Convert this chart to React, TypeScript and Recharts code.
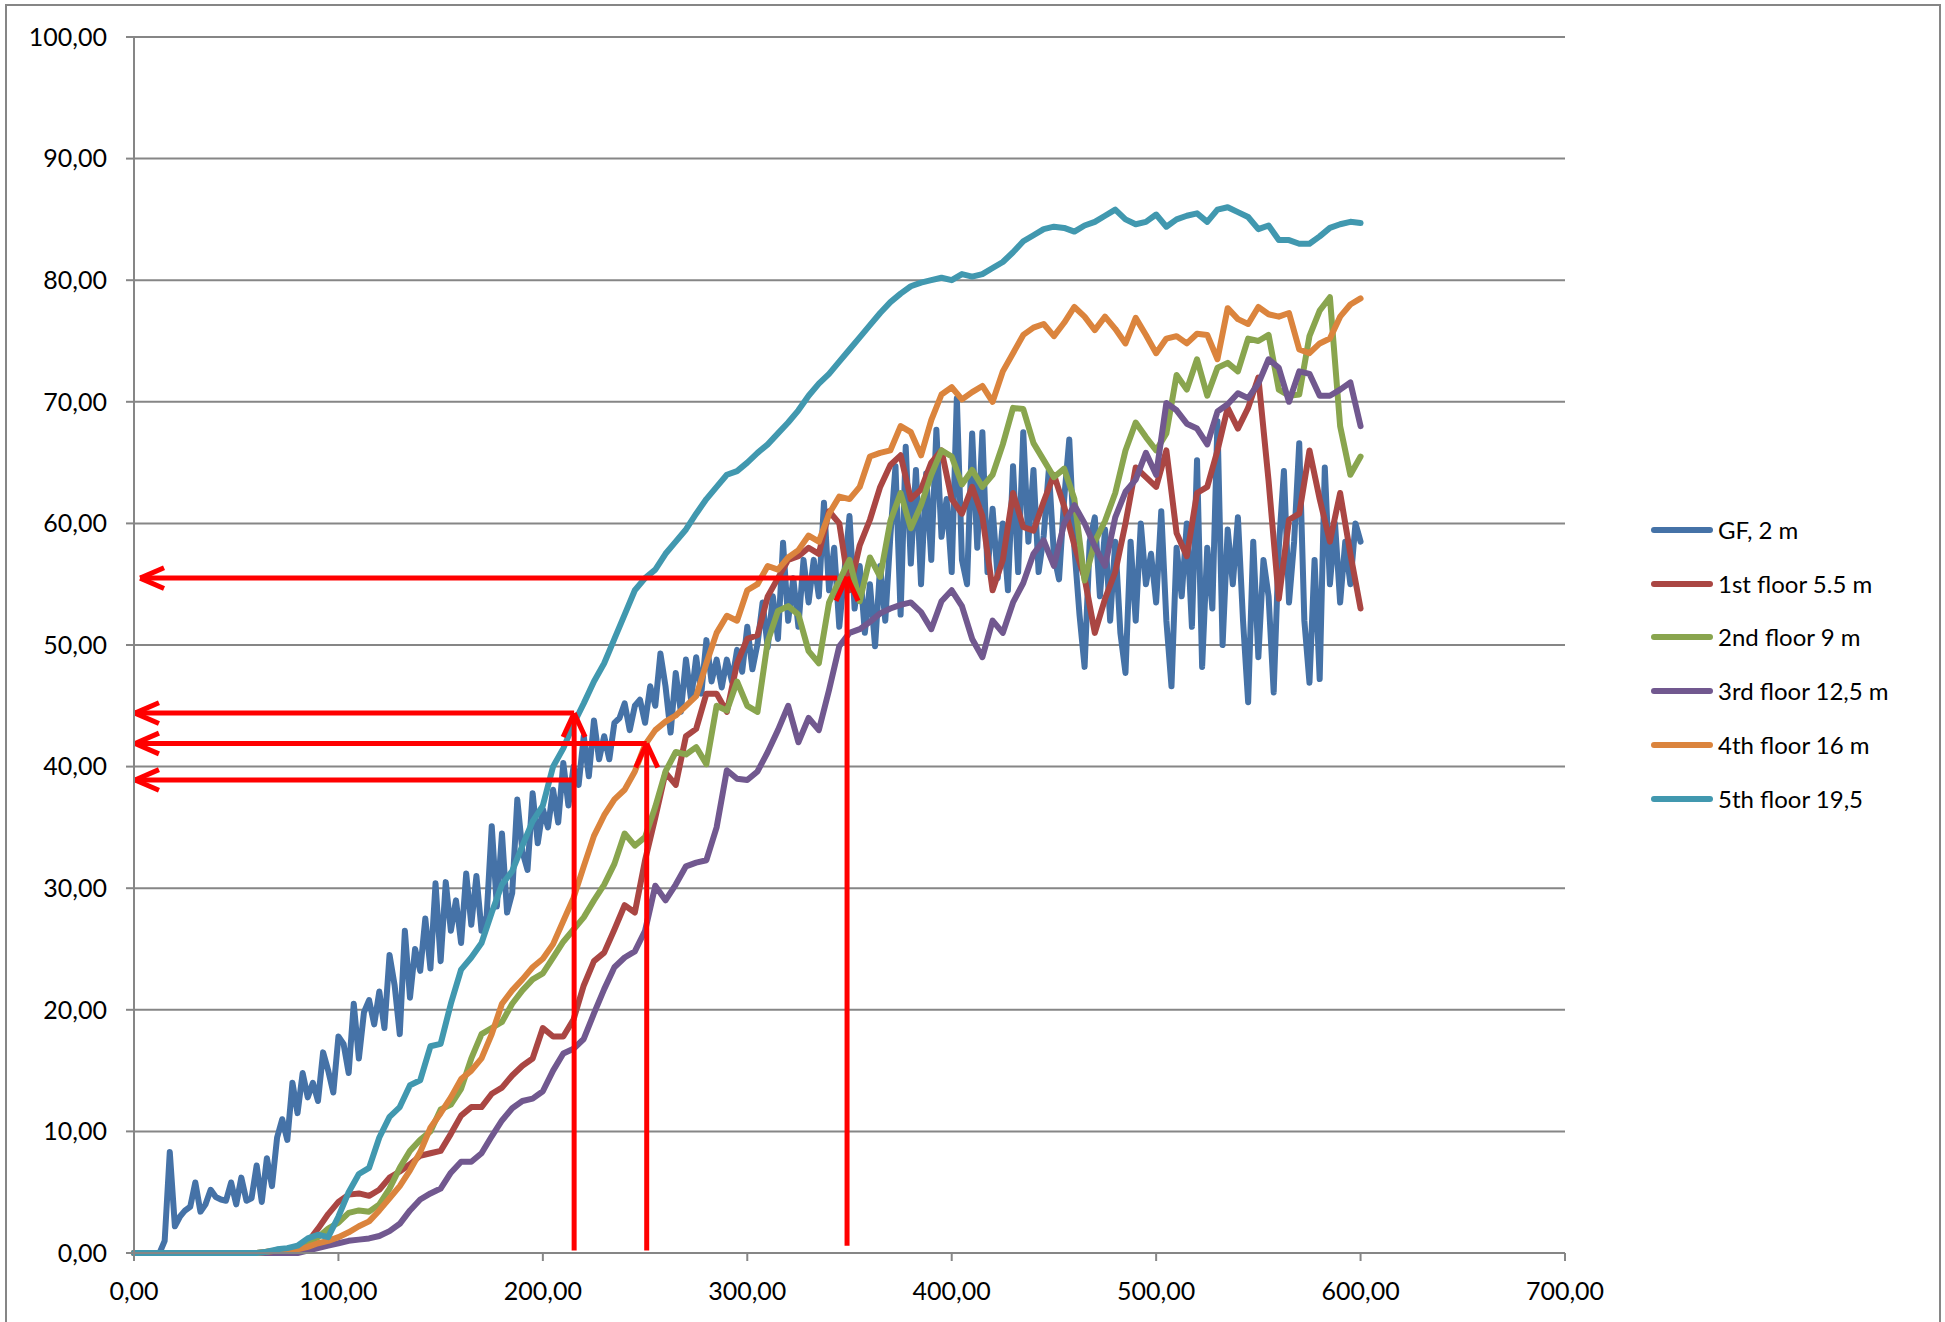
import React from 'react';
import { LineChart, Line, XAxis, YAxis, CartesianGrid, ReferenceLine, Legend } from 'recharts';

// ---- sampling (seconds between readings) ----
const GF_STEP = 2.5;
const FLOOR_STEP = 5;

// ---- series values ----
const gfValues = [
  0, 0, 0, 0, 0, 0, 1.0, 8.3,
  2.2, 3.0, 3.5, 3.8, 5.8, 3.4, 4.0, 5.2,
  4.6, 4.4, 4.3, 5.8, 4.0, 6.2, 4.3, 4.5,
  7.2, 4.2, 7.8, 5.5, 9.5, 11.0, 9.3, 14.0,
  11.5, 14.8, 12.8, 14.0, 12.5, 16.5, 15.0, 13.2,
  17.8, 17.2, 14.8, 20.5, 16.0, 19.8, 20.8, 18.8,
  21.5, 18.5, 24.5, 22.0, 18.0, 26.5, 21.0, 25.0,
  23.2, 27.5, 23.4, 30.4, 24.0, 30.5, 26.5, 29.0,
  25.5, 31.2, 27.0, 31.0, 26.5, 27.7, 35.1, 28.5,
  34.5, 28.0, 29.6, 37.3, 33.0, 31.5, 37.8, 33.7,
  36.5, 35.0, 38.1, 35.4, 40.3, 36.8, 40.0, 38.5,
  42.5, 39.2, 43.8, 40.6, 42.5, 40.6, 43.6, 44.0,
  45.2, 43.0, 45.0, 45.5, 43.6, 46.6, 45.0, 49.3,
  46.6, 42.8, 47.7, 44.5, 48.8, 45.5, 49.0, 46.0,
  50.4, 47.0, 48.8, 46.5, 48.8, 47.0, 49.6, 47.8,
  51.5, 48.0, 50.1, 53.5, 49.8, 54.0, 50.5, 58.4,
  52.0, 55.5, 51.5, 57.0, 53.5, 57.0, 54.0, 61.7,
  54.5, 58.0, 51.5, 56.0, 60.6, 53.0, 56.5, 51.0,
  55.0, 49.9, 56.5, 52.0, 59.0, 64.7, 52.5, 66.3,
  56.7, 64.4, 55.0, 64.1, 57.0, 67.7, 58.9, 62.0,
  56.0, 70.3, 57.0, 55.0, 67.4, 58.0, 67.5, 56.0,
  61.2, 55.5, 60.0, 54.5, 64.7, 56.0, 67.5, 58.5,
  64.4, 56.0, 59.0, 64.4, 57.4, 55.4, 62.0, 66.9,
  58.0, 52.5, 48.2, 58.5, 60.5, 54.0, 59.5, 52.0,
  58.5, 51.0, 47.7, 58.5, 52.0, 60.0, 55.0, 57.5,
  53.5, 61.0, 52.0, 46.6, 58.0, 54.0, 60.0, 51.5,
  65.2, 48.2, 58.0, 53.0, 68.4, 50.0, 59.5, 55.0,
  60.5, 52.0, 45.3, 58.5, 49.0, 57.0, 54.0, 46.1,
  58.0, 64.3, 53.5, 58.5, 66.6, 52.0, 46.9, 57.0,
  47.2, 64.6, 55.0, 60.0, 53.5, 58.5, 55.0, 60.0,
  58.5,
];

const floor1Values = [
  0, 0, 0, 0, 0, 0, 0, 0, 0, 0,
  0, 0, 0, 0, 0, 0, 0.2, 0.9, 2.0, 3.2,
  4.2, 4.8, 4.9, 4.7, 5.2, 6.2, 6.7, 7.3, 8.0, 8.2,
  8.4, 9.8, 11.3, 12.0, 12.0, 13.1, 13.6, 14.6, 15.4, 16.0,
  18.5, 17.8, 17.8, 19.2, 22.0, 24.0, 24.7, 26.6, 28.6, 28.0,
  32.3, 35.8, 39.5, 38.5, 42.5, 43.1, 46.0, 46.0, 44.5, 48.5,
  50.5, 50.8, 54.0, 55.5, 57.0, 57.3, 58.0, 57.5, 61.0, 60.0,
  54.5, 58.2, 60.3, 63.0, 64.8, 65.6, 62.0, 62.8, 65.0, 66.0,
  62.0, 60.8, 63.0, 60.6, 54.5, 57.0, 62.5, 59.7, 59.4, 61.8,
  64.0, 61.4, 58.2, 55.5, 51.0, 53.8, 56.0, 60.0, 64.6, 63.8,
  63.0, 66.0, 59.2, 57.3, 62.5, 63.0, 66.0, 69.5, 67.8, 69.5,
  72.0, 63.5, 53.8, 60.3, 60.8, 66.0, 62.0, 58.5, 62.5, 57.5,
  53.0,
];

const floor2Values = [
  0, 0, 0, 0, 0, 0, 0, 0, 0, 0,
  0, 0, 0, 0.1, 0.2, 0.3, 0.5, 0.8, 1.3, 2.0,
  2.5, 3.3, 3.5, 3.4, 4.0, 5.3, 7.0, 8.4, 9.3, 10.0,
  11.8, 12.2, 13.5, 16.0, 18.0, 18.5, 19.0, 20.5, 21.6, 22.5,
  23.0, 24.3, 25.6, 26.6, 27.6, 29.0, 30.3, 32.0, 34.5, 33.5,
  34.2, 36.7, 39.6, 41.2, 41.0, 41.6, 40.2, 45.0, 44.6, 47.0,
  45.0, 44.5, 50.3, 52.8, 53.2, 52.5, 49.5, 48.5, 53.5, 55.3,
  57.0, 53.6, 57.2, 55.6, 60.2, 62.5, 59.6, 61.5, 64.0, 66.0,
  65.5, 63.2, 64.4, 63.0, 64.0, 66.5, 69.5, 69.4, 66.6, 65.2,
  63.8, 64.5, 62.0, 55.3, 58.5, 60.2, 62.5, 66.0, 68.3, 67.1,
  66.0, 67.4, 72.2, 71.0, 73.5, 70.5, 72.8, 73.2, 72.5, 75.2,
  75.0, 75.5, 71.0, 70.5, 70.6, 75.4, 77.5, 78.6, 68.0, 64.0,
  65.5,
];

const floor3Values = [
  0, 0, 0, 0, 0, 0, 0, 0, 0, 0,
  0, 0, 0, 0, 0, 0, 0, 0.2, 0.4, 0.6,
  0.8, 1.0, 1.1, 1.2, 1.4, 1.8, 2.4, 3.5, 4.4, 4.9,
  5.3, 6.6, 7.5, 7.5, 8.2, 9.6, 10.9, 11.9, 12.5, 12.7,
  13.3, 15.0, 16.4, 16.8, 17.6, 19.7, 21.7, 23.5, 24.3, 24.8,
  26.5, 30.2, 29.0, 30.3, 31.8, 32.1, 32.3, 35.0, 39.7, 39.0,
  38.9, 39.6, 41.2, 43.0, 45.0, 42.0, 44.0, 43.0, 46.3, 49.9,
  51.0, 51.3, 51.9, 52.6, 53.0, 53.3, 53.5, 52.7, 51.3, 53.6,
  54.5, 53.2, 50.5, 49.0, 52.0, 51.0, 53.5, 55.1, 57.5, 58.6,
  56.5, 60.0, 61.5, 60.0, 58.1, 56.5, 60.5, 62.6, 63.6, 65.8,
  64.0, 69.9, 69.3, 68.2, 67.8, 66.5, 69.2, 69.8, 70.7, 70.3,
  71.5, 73.5, 72.8, 70.0, 72.5, 72.3, 70.5, 70.5, 71.0, 71.6,
  68.0,
];

const floor4Values = [
  0, 0, 0, 0, 0, 0, 0, 0, 0, 0,
  0, 0, 0, 0.1, 0.2, 0.3, 0.3, 0.5, 0.8, 1.0,
  1.3, 1.7, 2.2, 2.6, 3.5, 4.5, 5.5, 6.8, 8.3, 10.3,
  11.5, 12.8, 14.3, 15.0, 16.0, 18.0, 20.5, 21.6, 22.5, 23.5,
  24.2, 25.4, 27.3, 29.2, 31.8, 34.3, 36.0, 37.3, 38.1, 39.6,
  41.8, 43.0, 43.7, 44.2, 45.0, 45.8, 48.5, 51.0, 52.4, 52.0,
  54.5, 55.0, 56.5, 56.2, 57.2, 57.8, 59.0, 58.5, 60.8, 62.2,
  62.0, 63.0, 65.5, 65.8, 66.0, 68.0, 67.5, 65.6, 68.5, 70.6,
  71.2, 70.2, 70.8, 71.3, 70.0, 72.5, 74.0, 75.5, 76.1, 76.4,
  75.4, 76.5, 77.8, 77.0, 75.9, 77.0, 76.0, 74.8, 76.9, 75.5,
  74.0, 75.2, 75.4, 74.8, 75.6, 75.5, 73.5, 77.7, 76.8, 76.4,
  77.8, 77.2, 77.0, 77.3, 74.3, 74.0, 74.8, 75.2, 77.0, 78.0,
  78.5,
];

const floor5Values = [
  0, 0, 0, 0, 0, 0, 0, 0, 0, 0,
  0, 0, 0, 0.1, 0.3, 0.4, 0.6, 1.2, 1.5, 1.3,
  3.0, 5.0, 6.5, 7.0, 9.5, 11.2, 12.0, 13.8, 14.2, 17.0,
  17.2, 20.5, 23.3, 24.3, 25.5, 28.0, 30.3, 31.4, 33.5, 35.5,
  36.8, 40.0, 41.5, 43.5, 45.2, 47.0, 48.5, 50.5, 52.5, 54.5,
  55.5, 56.2, 57.5, 58.5, 59.5, 60.8, 62.0, 63.0, 64.0, 64.3,
  65.0, 65.8, 66.5, 67.4, 68.3, 69.3, 70.5, 71.5, 72.3, 73.3,
  74.3, 75.3, 76.3, 77.3, 78.2, 78.9, 79.5, 79.8, 80.0, 80.2,
  80.0, 80.5, 80.3, 80.5, 81.0, 81.5, 82.3, 83.2, 83.7, 84.2,
  84.4, 84.3, 84.0, 84.5, 84.8, 85.3, 85.8, 85.0, 84.6, 84.8,
  85.4, 84.4, 85.0, 85.3, 85.5, 84.8, 85.8, 86.0, 85.6, 85.2,
  84.2, 84.5, 83.3, 83.3, 83.0, 83.0, 83.6, 84.3, 84.6, 84.8,
  84.7,
];

// ---- axis ticks ----
const xTicks = [0, 100, 200, 300, 400, 500, 600, 700];
const yTicks = [0, 10, 20, 30, 40, 50, 60, 70, 80, 90, 100];

// ---- red annotation arrows (data units) ----
const upArrows = [
  { x: 215.3, yTop: 44.4, yBottom: 0.2 },
  { x: 250.8, yTop: 41.9, yBottom: 0.2 },
  { x: 348.8, yTop: 55.6, yBottom: 0.6 },
];
const leftArrows = [
  { y: 55.5, xFrom: 344, xTip: 3 },
  { y: 44.4, xFrom: 215.3, xTip: 0.5 },
  { y: 41.9, xFrom: 250.8, xTip: 0.5 },
  { y: 38.9, xFrom: 215.3, xTip: 0.5 },
];

const toPoints = (vals: number[], step: number) => vals.map((v, i) => ({ t: i * step, v }));

const series = [
  { name: 'GF, 2 m', color: '#4572A7', data: toPoints(gfValues, GF_STEP) },
  { name: '1st floor 5.5 m', color: '#AA4643', data: toPoints(floor1Values, FLOOR_STEP) },
  { name: '2nd floor 9 m', color: '#89A54E', data: toPoints(floor2Values, FLOOR_STEP) },
  { name: '3rd floor 12,5 m', color: '#71588F', data: toPoints(floor3Values, FLOOR_STEP) },
  { name: '4th floor 16 m', color: '#DB843D', data: toPoints(floor4Values, FLOOR_STEP) },
  { name: '5th floor 19,5', color: '#4198AF', data: toPoints(floor5Values, FLOOR_STEP) },
];

const fmt = (v: number) => v.toFixed(2).replace('.', ',');
const FONT = 'Lato, "Open Sans", sans-serif';
const GRID = '#868686';
const RED = '#FF0000';
const RED_W = 5;
const ARM_ALONG_X = 11.7; // arrow arm length along x (data units)
const ARM_ACROSS_Y = 0.85;
const ARM_ALONG_Y = 1.97;
const ARM_ACROSS_X = 5.4;

const renderLegend = () => (
  <div style={{ fontFamily: FONT }}>
    {series.map((s) => (
      <div key={s.name} style={{ display: 'flex', alignItems: 'center', height: 53.8 }}>
        <div style={{ width: 62, height: 6, borderRadius: 3, background: s.color, marginRight: 5 }} />
        <span style={{ fontSize: 24, color: '#000', lineHeight: 1, whiteSpace: 'nowrap' }}>{s.name}</span>
      </div>
    ))}
  </div>
);

export default function App() {
  return (
    <div style={{ position: 'absolute', left: 0, top: 0, width: 1945, height: 1322, overflow: 'hidden', background: '#fff', fontFamily: FONT }}>
      <div style={{ position: 'absolute', left: 5, top: 4, width: 1932, height: 1340, border: `2px solid ${GRID}` }} />
      <div style={{ position: 'absolute', left: 0, top: 0 }}>
        <LineChart width={1945} height={1322} margin={{ top: 37, right: 380, bottom: 29, left: 14 }}>
          <CartesianGrid vertical={false} stroke={GRID} strokeWidth={2} />
          <XAxis
            dataKey="t"
            type="number"
            domain={[0, 700]}
            ticks={xTicks}
            tickFormatter={fmt}
            height={40}
            tickSize={8}
            tickMargin={21}
            stroke={GRID}
            strokeWidth={2}
            tick={{ fill: '#000', fontSize: 25, fontFamily: FONT }}
            allowDuplicatedCategory={false}
          />
          <YAxis
            type="number"
            domain={[0, 100]}
            ticks={yTicks}
            tickFormatter={fmt}
            width={120}
            tickSize={8}
            tickMargin={19}
            stroke={GRID}
            strokeWidth={2}
            tick={{ fill: '#000', fontSize: 25, fontFamily: FONT }}
          />
          {series.map((s) => (
            <Line
              key={s.name}
              name={s.name}
              data={s.data}
              dataKey="v"
              type="linear"
              stroke={s.color}
              strokeWidth={6}
              strokeLinejoin="round"
              strokeLinecap="round"
              dot={false}
              activeDot={false}
              isAnimationActive={false}
            />
          ))}
          {upArrows.map((a, i) => (
            <ReferenceLine key={`uv${i}`} segment={[{ x: a.x, y: a.yBottom }, { x: a.x, y: a.yTop }]} stroke={RED} strokeWidth={RED_W} />
          ))}
          {upArrows.map((a, i) => (
            <ReferenceLine key={`ua${i}`} segment={[{ x: a.x - ARM_ACROSS_X, y: a.yTop - ARM_ALONG_Y }, { x: a.x, y: a.yTop }]} stroke={RED} strokeWidth={RED_W} />
          ))}
          {upArrows.map((a, i) => (
            <ReferenceLine key={`ub${i}`} segment={[{ x: a.x + ARM_ACROSS_X, y: a.yTop - ARM_ALONG_Y }, { x: a.x, y: a.yTop }]} stroke={RED} strokeWidth={RED_W} />
          ))}
          {leftArrows.map((a, i) => (
            <ReferenceLine key={`lh${i}`} segment={[{ x: a.xFrom, y: a.y }, { x: a.xTip, y: a.y }]} stroke={RED} strokeWidth={RED_W} />
          ))}
          {leftArrows.map((a, i) => (
            <ReferenceLine key={`la${i}`} segment={[{ x: a.xTip + ARM_ALONG_X, y: a.y + ARM_ACROSS_Y }, { x: a.xTip, y: a.y }]} stroke={RED} strokeWidth={RED_W} />
          ))}
          {leftArrows.map((a, i) => (
            <ReferenceLine key={`lb${i}`} segment={[{ x: a.xTip + ARM_ALONG_X, y: a.y - ARM_ACROSS_Y }, { x: a.xTip, y: a.y }]} stroke={RED} strokeWidth={RED_W} />
          ))}
          <Legend
            layout="horizontal"
            verticalAlign="middle"
            align="center"
            content={renderLegend}
            wrapperStyle={{ left: 1651, top: 503, right: 'auto', bottom: 'auto', width: 290 }}
          />
        </LineChart>
      </div>
    </div>
  );
}
